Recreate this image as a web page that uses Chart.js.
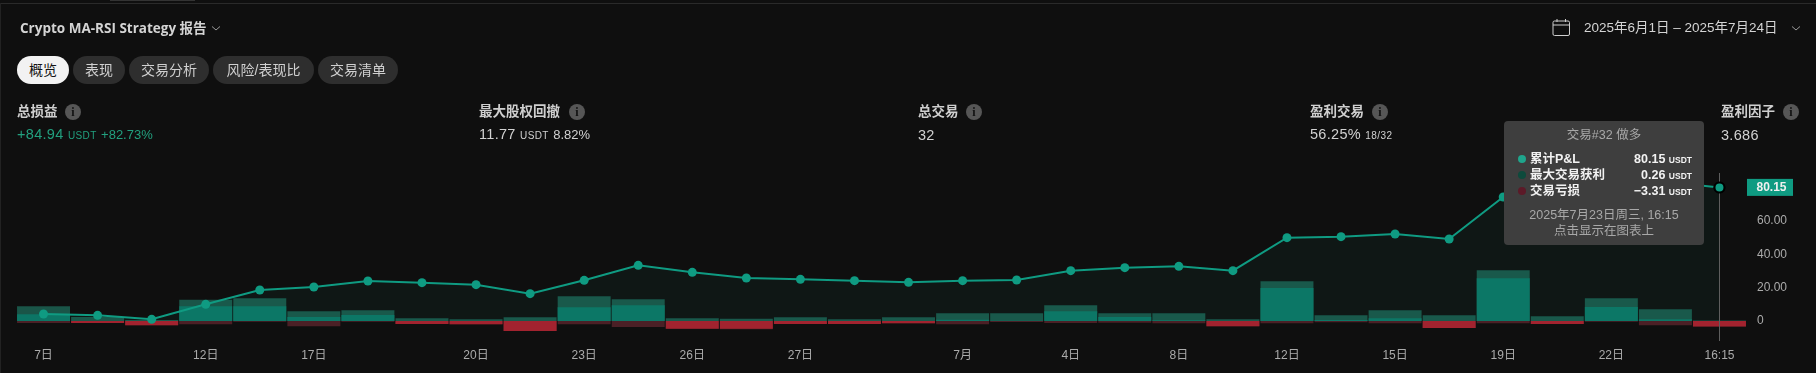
<!DOCTYPE html>
<html><head><meta charset="utf-8">
<script src="https://cdn.jsdelivr.net/npm/chart.js@4"></script>
<style>
html,body{margin:0;padding:0;background:#0f0f0f;width:1816px;height:373px;overflow:hidden}
body{position:relative;font-family:"Liberation Sans","Noto Sans CJK SC",sans-serif;color:#d1d1d1}
canvas{position:absolute;left:0;top:0}
.t{position:absolute;white-space:nowrap;line-height:18px;transform:translateY(-50%)}
.topline{position:absolute;left:0;top:3px;width:1816px;height:1px;background:#2a2a2a}
.topseg{position:absolute;left:110px;top:0;width:85px;height:1px;background:#333}
.leftline{position:absolute;left:0;top:3px;width:1px;height:370px;background:#222}
.tab{position:absolute;top:56px;height:28px;line-height:28px;border-radius:14px;background:#2e2e2e;color:#d0d0d0;font-size:14px;text-align:center}
.tab.on{background:#f2f2f2;color:#131313}
.lab{font-size:13.5px;font-weight:bold;color:#cfcfcf}
.val{font-size:14.5px;letter-spacing:.3px}
.val small{font-size:13px;letter-spacing:0}
.u{font-size:10px;letter-spacing:.4px}
.i{position:absolute;width:16px;height:16px;border-radius:50%;background:#565656;color:#111;font:bold 12px/16px "Liberation Serif";text-align:center;transform:translateY(-50%)}
.tip{position:absolute;left:1504px;top:121px;width:200px;height:124px;background:#3e3e3e;border-radius:4px}
.tip .c{position:absolute;left:0;width:200px;text-align:center;color:#a8a8a8;font-size:12.5px;transform:translateY(-50%);line-height:16px}
.tip .d{position:absolute;left:14px;width:8px;height:8px;border-radius:50%;transform:translateY(-50%)}
.tip .n{position:absolute;left:26px;color:#f2f2f2;font-size:12.5px;font-weight:bold;transform:translateY(-50%);line-height:16px;white-space:nowrap}
.tip .v{position:absolute;right:12px;color:#f2f2f2;font-size:12.5px;font-weight:bold;transform:translateY(-50%);line-height:16px;white-space:nowrap}
.tip .v span{font-size:8.5px}
</style></head><body>
<div class="topline"></div><div class="topseg"></div><div class="leftline"></div>
<canvas id="c" width="1816" height="373"></canvas>

<div class="t" style="left:20px;top:28px;font-size:13.5px;font-weight:bold;color:#d4d4d4;font-family:'Open Sans','Noto Sans CJK SC'">Crypto MA-RSI Strategy 报告</div>
<svg style="position:absolute;left:211px;top:25px" width="10" height="7"><path d="M1 1.5L5 5L9 1.5" fill="none" stroke="#999" stroke-width="1"/></svg>

<div class="tab on" style="left:17px;width:52px">概览</div>
<div class="tab" style="left:73px;width:52px">表现</div>
<div class="tab" style="left:129px;width:80px">交易分析</div>
<div class="tab" style="left:213px;width:101px">风险/表现比</div>
<div class="tab" style="left:318px;width:80px">交易清单</div>

<div class="t lab" style="left:17px;top:112px">总损益</div><div class="i" style="left:65px;top:112px">i</div>
<div class="t val" style="left:17px;top:135px;color:#22a07f">+84.94 <span class="u">USDT</span>&nbsp;<small>+82.73%</small></div>
<div class="t lab" style="left:479px;top:112px">最大股权回撤</div><div class="i" style="left:569px;top:112px">i</div>
<div class="t val" style="left:479px;top:135px">11.77 <span class="u">USDT</span>&nbsp;<small>8.82%</small></div>
<div class="t lab" style="left:918px;top:112px">总交易</div><div class="i" style="left:966px;top:112px">i</div>
<div class="t val" style="left:918px;top:135px">32</div>
<div class="t lab" style="left:1310px;top:112px">盈利交易</div><div class="i" style="left:1372px;top:112px">i</div>
<div class="t val" style="left:1310px;top:135px">56.25% <span class="u">18/32</span></div>
<div class="t lab" style="left:1721px;top:112px">盈利因子</div><div class="i" style="left:1783px;top:112px">i</div>
<div class="t val" style="left:1721px;top:135px">3.686</div>

<svg style="position:absolute;left:1552px;top:18px" width="19" height="19"><rect x="1" y="3" width="16.5" height="14.5" rx="1.5" fill="none" stroke="#cfcfcf"/><path d="M1 7H17.5M5 1V4M13.5 1V4" stroke="#cfcfcf" fill="none"/></svg>
<div class="t" style="left:1584px;top:28px;font-size:13.5px;color:#d4d4d4">2025年6月1日 – 2025年7月24日</div>
<svg style="position:absolute;left:1791px;top:25px" width="10" height="7"><path d="M1 1.5L5 5L9 1.5" fill="none" stroke="#999" stroke-width="1"/></svg>

<div class="tip">
 <div class="c" style="top:14px">交易#32 做多</div>
 <div class="d" style="top:38px;background:#1fa58c"></div><div class="n" style="top:38px">累计P&amp;L</div><div class="v" style="top:38px">80.15 <span>USDT</span></div>
 <div class="d" style="top:54px;background:#0d4a3c"></div><div class="n" style="top:54px">最大交易获利</div><div class="v" style="top:54px">0.26 <span>USDT</span></div>
 <div class="d" style="top:70px;background:#5c1a28"></div><div class="n" style="top:70px">交易亏损</div><div class="v" style="top:70px">−3.31 <span>USDT</span></div>
 <div class="c" style="top:94px">2025年7月23日周三, 16:15</div>
 <div class="c" style="top:110px">点击显示在图表上</div>
</div>

<script>
const xLabels = ['7日','','','12日','','17日','','','20日','','23日','','26日','','27日','','','7月','','4日','','8日','','12日','','15日','','19日','','22日','','16:15'];
const yTicks = [0,20,40,60];
const lastValue = 80.15;
const cumulative = [4.2,3.4,1.0,10.0,18.6,20.4,24.0,23.0,21.8,16.4,24.4,33.4,29.2,25.8,25.0,24.2,23.2,24.2,24.6,30.2,32.0,32.8,30.2,50.0,50.6,52.2,49.2,74.4,73.5,82.2,83.46,80.15];
const maxRunUp = [8.8,2.4,0.6,12.8,13.6,5.8,6.4,1.6,1.0,2.2,14.8,13.0,1.6,1.4,2.2,1.0,2.2,4.6,4.6,9.4,4.6,4.6,1.0,23.8,3.4,6.4,3.4,30.4,2.8,13.6,7.0,0.26];
const profit = [4.0,0,0,8.8,8.8,2.4,3.6,0,0,0,8.2,9.4,0,0,0,0,0,0.8,0.2,5.8,2.4,0.4,0,19.8,0.6,1.6,0,25.6,0,8.4,1.0,0];
const maxDrawdown = [-1.2,-1.2,-2.6,-2.0,-0.5,-3.2,-0.5,-1.8,-2.0,-6.0,-2.0,-3.6,-4.6,-5.0,-1.8,-1.8,-1.4,-2.0,-0.6,-1.2,-1.0,-1.4,-3.2,-1.4,-0.8,-1.4,-4.2,-1.4,-1.8,-0.4,-2.6,-3.31];
const loss = [0,-1.2,-2.6,0,0,0,0,-1.8,-2.0,-6.0,0,0,-4.6,-4.6,-1.8,-1.8,-1.4,0,0,0,0,0,-3.2,0,0,0,-4.2,0,-1.8,0,0,-3.31];

const LAST = cumulative.length - 1;
const teal = '#0f9b82';

const overlay = {
  id:'overlay',
  afterDatasetsDraw(chart){
    const {ctx,chartArea:a,scales:{x,y}} = chart;
    const px = Math.round(x.getPixelForValue(LAST))+.5;
    ctx.save();
    ctx.strokeStyle='#5e5e5e';ctx.lineWidth=1;
    ctx.beginPath();ctx.moveTo(px,a.top);ctx.lineTo(px,a.bottom);ctx.stroke();
    ctx.restore();
    chart.getDatasetMeta(0).data[LAST].draw(ctx);
    const py = y.getPixelForValue(lastValue);
    ctx.save();
    ctx.fillStyle='#0f9b82';
    ctx.fillRect(1747,py-8.5,46,17);
    ctx.fillStyle='#f0f0f0';ctx.font='bold 12px "Liberation Sans"';
    ctx.textAlign='center';ctx.textBaseline='middle';
    ctx.fillText(lastValue.toFixed(2),1771.5,py+.5);
    ctx.restore();
  }
};

const barBase = {type:'bar',grouped:false,barPercentage:1,categoryPercentage:.98,borderWidth:0};
new Chart(document.getElementById('c'),{
  data:{labels:xLabels,datasets:[
    {type:'line',data:cumulative,order:0,borderColor:teal,borderWidth:2,tension:0,
     fill:'origin',backgroundColor:'rgba(15,155,130,0.055)',
     pointBackgroundColor:teal,
     pointRadius:c=>c.dataIndex===LAST?5:4.5,
     pointBorderWidth:c=>c.dataIndex===LAST?2:0,
     pointBorderColor:'#000'},
    {...barBase,data:profit,order:1,backgroundColor:'#0c7565'},
    {...barBase,data:loss,order:2,backgroundColor:'#a2232f'},
    {...barBase,data:maxRunUp,order:3,backgroundColor:'#1a5548'},
    {...barBase,data:maxDrawdown,order:4,backgroundColor:'#4b2026'}
  ]},
  options:{
    responsive:false,animation:false,devicePixelRatio:1,
    layout:{padding:{left:16.5,right:0,top:173,bottom:0}},
    plugins:{legend:{display:false},tooltip:{enabled:false}},
    scales:{
      x:{type:'category',offset:true,grid:{display:false,drawTicks:false},border:{display:false},
         afterFit(s){s.height=32},
         ticks:{autoSkip:false,maxRotation:0,minRotation:0,padding:7,color:'#ababab',
                font:{size:12,family:'"Liberation Sans","Noto Sans CJK SC"'}}},
      y:{type:'linear',position:'right',min:-12.0,max:88.78,grid:{display:false,drawTicks:false},border:{display:false},
         afterFit(s){s.width=69.5},
         afterBuildTicks(s){s.ticks=yTicks.map(v=>({value:v}))},
         ticks:{padding:10.5,color:'#ababab',font:{size:12,family:'"Liberation Sans"'},
                callback:v=>v===0?'0':v.toFixed(2)}}
    }
  },
  plugins:[overlay]
});
</script>
</body></html>
